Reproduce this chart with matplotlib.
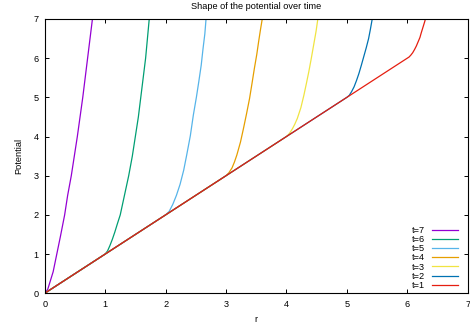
import matplotlib
matplotlib.use("Agg")
import matplotlib.pyplot as plt

plt.rcParams['font.family'] = ['Liberation Sans', 'DejaVu Sans']

# potential V(r) for each time step, read point by point
labels = ["t=7", "t=6", "t=5", "t=4", "t=3", "t=2", "t=1"]
colors = ["#9400d3", "#009e73", "#56b4e9", "#e69f00", "#f0e442", "#0072b2", "#e51e10"]

r_t7 = [0.0, 0.05, 0.09, 0.14, 0.20, 0.26, 0.33, 0.38, 0.44, 0.49, 0.54, 0.585, 0.63, 0.67, 0.71, 0.75, 0.79]
v_t7 = [0.0, 0.10, 0.30, 0.55, 1.00, 1.45, 2.00, 2.50, 3.00, 3.50, 4.00, 4.50, 5.00, 5.50, 6.00, 6.50, 7.00]

r_t6 = [0.0, 1.0, 1.04, 1.08, 1.12, 1.16, 1.20, 1.25, 1.32, 1.39, 1.45, 1.50, 1.55, 1.59, 1.63, 1.67, 1.70, 1.73]
v_t6 = [0.0, 1.0, 1.08, 1.22, 1.38, 1.56, 1.76, 2.00, 2.50, 3.00, 3.50, 4.00, 4.50, 5.00, 5.50, 6.00, 6.50, 7.00]

r_t5 = [0.0, 2.0, 2.06, 2.12, 2.18, 2.24, 2.30, 2.35, 2.41, 2.46, 2.51, 2.55, 2.59, 2.62, 2.65, 2.67]
v_t5 = [0.0, 2.0, 2.09, 2.27, 2.50, 2.78, 3.14, 3.53, 4.02, 4.55, 5.00, 5.40, 5.82, 6.24, 6.62, 7.00]

r_t4 = [0.0, 3.0, 3.05, 3.10, 3.14, 3.18, 3.24, 3.29, 3.34, 3.39, 3.43, 3.47, 3.51, 3.54, 3.57, 3.60]
v_t4 = [0.0, 3.0, 3.08, 3.20, 3.35, 3.53, 3.86, 4.21, 4.58, 4.97, 5.35, 5.74, 6.10, 6.42, 6.72, 7.00]

r_t3 = [0.0, 4.0, 4.05, 4.10, 4.14, 4.18, 4.24, 4.29, 4.33, 4.37, 4.41, 4.45, 4.49, 4.52]
v_t3 = [0.0, 4.0, 4.08, 4.20, 4.32, 4.46, 4.74, 5.06, 5.35, 5.65, 5.98, 6.33, 6.68, 7.00]

r_t2 = [0.0, 5.0, 5.04, 5.08, 5.12, 5.16, 5.20, 5.24, 5.28, 5.32, 5.36, 5.39, 5.42]
v_t2 = [0.0, 5.0, 5.05, 5.15, 5.27, 5.43, 5.61, 5.82, 6.04, 6.26, 6.50, 6.74, 7.00]

r_t1 = [0.0, 5.96, 6.0, 6.03, 6.06, 6.09, 6.12, 6.15, 6.18, 6.21, 6.23, 6.25, 6.27, 6.29, 6.30]
v_t1 = [0.0, 5.96, 6.0, 6.03, 6.08, 6.14, 6.22, 6.31, 6.42, 6.53, 6.64, 6.74, 6.84, 6.94, 7.00]

curves = [(r_t7, v_t7), (r_t6, v_t6), (r_t5, v_t5), (r_t4, v_t4),
          (r_t3, v_t3), (r_t2, v_t2), (r_t1, v_t1)]

fs = 6.6
fig = plt.figure(figsize=(4.70, 3.27), dpi=100)
ax = fig.add_axes([0.0951, 0.1031, 0.9000, 0.8388])

for (r, v), lab, c in zip(curves, labels, colors):
    ax.plot(r, v, color=c, lw=0.9, label=lab)

ax.set_xlim(0, 7)
ax.set_ylim(0, 7)
ax.set_xticks(range(8))
ax.set_yticks(range(8))
ax.tick_params(direction='in', length=2.6, width=0.7, top=True, right=True,
               labelsize=fs, colors='black', pad=4.5)
ax.tick_params(axis='x', pad=5.0)
for s in ax.spines.values():
    s.set_linewidth(0.8)
    s.set_color('black')

ax.set_title("Shape of the potential over time", fontsize=fs, pad=7)
ax.set_xlabel("r", fontsize=fs, labelpad=4)
ax.set_ylabel("Potential", fontsize=fs, labelpad=7)

ax.legend(loc='lower right', bbox_to_anchor=(0.976, 0.012), frameon=False,
          markerfirst=False, fontsize=fs, handlelength=2.83, handletextpad=0.73,
          labelspacing=0.02, borderpad=0, borderaxespad=0)

fig.savefig("out.png", dpi=100)
